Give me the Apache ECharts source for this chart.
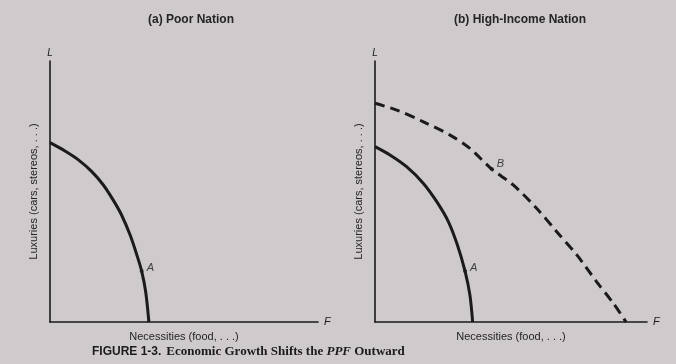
<!DOCTYPE html>
<html><head><meta charset="utf-8">
<script src="https://cdn.jsdelivr.net/npm/echarts@6/dist/echarts.min.js"></script>
<style>html,body{margin:0;padding:0;background:#cfcacb;}#c{width:676px;height:364px;}</style>
</head><body><div id="c"></div>
<script>
// Panel (a) Poor Nation: PPF points (F = necessities, L = luxuries)
const poorF = [0, 5.6, 10.6, 15.6, 19.9, 23.6, 26.7, 29.9, 32.4, 34.2, 35.7, 36.9];
const poorL = [68.7, 65.5, 62.1, 57.6, 52.5, 46.7, 41.0, 33.3, 25.7, 19.5, 11.6, 0];
const poorA = [34.2, 19.5];
// Panel (b) High-Income Nation: original PPF
const richF = [0, 5.5, 11.6, 17.8, 22.7, 27.0, 30.3, 33.1, 34.9, 35.9];
const richL = [67.2, 64.0, 59.5, 53.1, 46.1, 38.4, 29.5, 19.5, 10.3, 0];
const richA = [33.1, 19.5];
// Panel (b) shifted (dashed) PPF
const grownF = [0, 8.0, 17.8, 27.6, 34.9, 42.9, 50.8, 59.4, 66.8, 74.2, 81.5, 87.6, 92.3];
const grownL = [83.8, 81.2, 76.7, 71.6, 66.5, 58.6, 52.5, 43.6, 34.6, 25.7, 15.4, 7.2, 0];
const grownB = [42.9, 58.6];

const titles = ['(a) Poor Nation', '(b) High-Income Nation'];
const yName = 'Luxuries (cars, stereos, . . .)';
const xName = 'Necessities (food, . . .)';

const zip = (a, b) => a.map((v, i) => [v, b[i]]);
const ink = '#1c1a1c';
const textInk = '#262426';
const chart = echarts.init(document.getElementById('c'));

const grids = [
  {left: 50, top: 61, width: 268, height: 261},
  {left: 375, top: 61, width: 272, height: 261}
];
function mainX(g){return {type:'value',gridIndex:g,min:0,max:100,axisLine:{onZero:false,lineStyle:{color:ink,width:1.6}},axisTick:{show:false},axisLabel:{show:false},splitLine:{show:false},name:'F',nameLocation:'end',nameGap:6,nameTextStyle:{color:ink,fontStyle:'italic',fontFamily:'Liberation Sans',fontSize:11}};}
function nameX(g){return {type:'value',gridIndex:g,min:0,max:100,position:'bottom',axisLine:{show:false},axisTick:{show:false},axisLabel:{show:false},splitLine:{show:false},name:xName,nameLocation:'middle',nameGap:9,nameTextStyle:{color:textInk,fontFamily:'Liberation Sans',fontSize:11}};}
function mainY(g){return {type:'value',gridIndex:g,min:0,max:100,axisLine:{onZero:false,lineStyle:{color:ink,width:1.6}},axisTick:{show:false},axisLabel:{show:false},splitLine:{show:false},name:'L',nameLocation:'end',nameGap:3,nameTextStyle:{color:ink,fontStyle:'italic',fontFamily:'Liberation Sans',fontSize:10}};}
function nameY(g){return {type:'value',gridIndex:g,min:0,max:100,position:'left',axisLine:{show:false},axisTick:{show:false},axisLabel:{show:false},splitLine:{show:false},name:yName,nameLocation:'middle',nameGap:11,nameTextStyle:{color:textInk,fontFamily:'Liberation Sans',fontSize:11}};}

const lineBase = {type:'line',smooth:0.3,showSymbol:false,symbol:'none',silent:true};
const ptLabel = (t)=>({show:true,formatter:t,position:'right',distance:3,offset:[0,-3],color:ink,fontStyle:'italic',fontFamily:'Liberation Sans',fontSize:11});

chart.setOption({
  backgroundColor:'#cfcacb',
  animation:false,
  title:[
    {text:titles[0],left:186,top:9,textAlign:'center',textStyle:{fontFamily:'Liberation Sans',fontWeight:'bold',fontSize:12,color:textInk}},
    {text:titles[1],left:515,top:9,textAlign:'center',textStyle:{fontFamily:'Liberation Sans',fontWeight:'bold',fontSize:12,color:textInk}},
    {text:'{a|FIGURE 1-3.} {b|Economic Growth Shifts the }{c|PPF}{b| Outward}',left:87,top:338,textStyle:{rich:{
      a:{fontFamily:'Liberation Sans',fontWeight:'bold',fontSize:12,color:ink},
      b:{fontFamily:'Liberation Serif',fontWeight:'bold',fontSize:13,color:ink},
      c:{fontFamily:'Liberation Serif',fontWeight:'bold',fontStyle:'italic',fontSize:13,color:ink}}}}
  ],
  grid:grids,
  xAxis:[mainX(0),nameX(0),mainX(1),nameX(1)],
  yAxis:[mainY(0),nameY(0),mainY(1),nameY(1)],
  series:[
    Object.assign({},lineBase,{xAxisIndex:0,yAxisIndex:0,data:zip(poorF,poorL),lineStyle:{color:ink,width:3}}),
    {type:'scatter',xAxisIndex:0,yAxisIndex:0,data:[poorA],symbolSize:4,itemStyle:{color:ink},label:ptLabel('A')},
    Object.assign({},lineBase,{xAxisIndex:2,yAxisIndex:2,data:zip(richF,richL),lineStyle:{color:ink,width:3}}),
    {type:'scatter',xAxisIndex:2,yAxisIndex:2,data:[richA],symbolSize:4,itemStyle:{color:ink},label:ptLabel('A')},
    Object.assign({},lineBase,{xAxisIndex:2,yAxisIndex:2,data:zip(grownF,grownL),lineStyle:{color:ink,width:3,type:[10,6]}}),
    {type:'scatter',xAxisIndex:2,yAxisIndex:2,data:[grownB],symbolSize:4,itemStyle:{color:ink},label:Object.assign(ptLabel('B'),{offset:[0,-5]})}
  ]
});
</script></body></html>
